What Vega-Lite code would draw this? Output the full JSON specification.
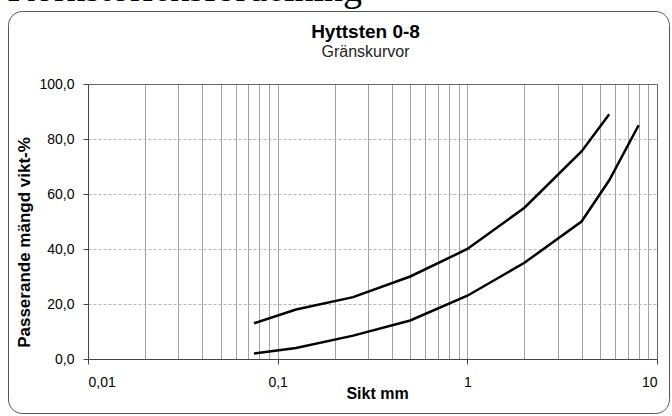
{
  "$schema": "https://vega.github.io/schema/vega-lite/v6.json",
  "autosize": {"type": "none"},
  "width": 661,
  "height": 402,
  "padding": {"left": 8, "top": 11, "right": 3, "bottom": 3},
  "background": "#ffffff",
  "config": {
    "view": {"stroke": "#555555", "strokeWidth": 1, "cornerRadius": 14},
    "font": "Liberation Sans",
    "axis": {"labelFont": "Liberation Sans", "titleFont": "Liberation Sans", "labelColor": "#000000", "titleColor": "#000000"}
  },
  "title": {
    "text": "Hyttsten 0-8",
    "subtitle": "Gränskurvor",
    "frame": "group",
    "anchor": "middle",
    "orient": "top",
    "offset": -90,
    "dx": 27,
    "font": "Liberation Sans",
    "fontSize": 19,
    "fontWeight": "bold",
    "color": "#000000",
    "subtitleFont": "Liberation Sans",
    "subtitleFontSize": 16,
    "subtitleColor": "#222222",
    "subtitlePadding": 2
  },
  "data": {
    "values": [
      {"serie": "övre", "sikt": 0.075, "passerande": 13},
      {"serie": "övre", "sikt": 0.125, "passerande": 18},
      {"serie": "övre", "sikt": 0.25, "passerande": 22.5},
      {"serie": "övre", "sikt": 0.5, "passerande": 30},
      {"serie": "övre", "sikt": 1, "passerande": 40},
      {"serie": "övre", "sikt": 2, "passerande": 55},
      {"serie": "övre", "sikt": 4, "passerande": 75.5},
      {"serie": "övre", "sikt": 5.6, "passerande": 89},
      {"serie": "undre", "sikt": 0.075, "passerande": 2},
      {"serie": "undre", "sikt": 0.125, "passerande": 4},
      {"serie": "undre", "sikt": 0.25, "passerande": 8.5},
      {"serie": "undre", "sikt": 0.5, "passerande": 14},
      {"serie": "undre", "sikt": 1, "passerande": 23},
      {"serie": "undre", "sikt": 2, "passerande": 35},
      {"serie": "undre", "sikt": 4, "passerande": 50},
      {"serie": "undre", "sikt": 5.6, "passerande": 65},
      {"serie": "undre", "sikt": 8, "passerande": 85}
    ]
  },
  "resolve": {"axis": {"x": "independent", "y": "independent"}},
  "layer": [
    {
      "mark": {"type": "line", "color": "#000000", "strokeWidth": 2.5, "opacity": 0},
      "encoding": {
        "x": {
          "field": "sikt", "type": "quantitative",
          "scale": {"type": "log", "domain": [0.01, 10], "range": [80, 649], "nice": false},
          "axis": {
            "orient": "top", "offset": -73,
            "values": [0.01,0.02,0.03,0.04,0.05,0.06,0.07,0.08,0.09,0.1,0.2,0.3,0.4,0.5,0.6,0.7,0.8,0.9,1,2,3,4,5,6,7,8,9,10],
            "grid": true, "gridColor": "#a3a3a3", "gridWidth": 1,
            "domain": true, "domainColor": "#666666", "domainWidth": 1,
            "ticks": false, "labels": false,
            "title": "Kornstorleksfördelning",
            "titleFont": "Liberation Serif", "titleFontSize": 38, "titleFontWeight": "normal",
            "titleX": -1, "titleY": -84, "titleAlign": "left", "titleBaseline": "alphabetic", "titleAngle": 0
          }
        },
        "y": {
          "field": "passerande", "type": "quantitative",
          "scale": {"domain": [0, 100], "range": [348, 73], "nice": false, "zero": true},
          "axis": {
            "orient": "right", "offset": -12,
            "grid": false, "domain": true, "domainColor": "#666666", "domainWidth": 1,
            "ticks": false, "labels": false, "title": null
          }
        },
        "detail": {"field": "serie"}
      }
    },
    {
      "mark": {"type": "line", "color": "#000000", "strokeWidth": 2.5},
      "encoding": {
        "x": {
          "field": "sikt", "type": "quantitative",
          "axis": {
            "orient": "bottom", "offset": -54,
            "values": [0.01, 0.1, 1, 10],
            "grid": false,
            "domain": true, "domainColor": "#444444", "domainWidth": 1,
            "ticks": true, "tickSize": 5, "tickColor": "#444444",
            "labelFontSize": 14, "labelPadding": 11,
            "labelExpr": "replace(format(datum.value, '~g'), '.', ',')",
            "title": "Sikt mm",
            "titleFontSize": 16, "titleFontWeight": "bold",
            "titleX": 369, "titleY": 39, "titleAlign": "center", "titleBaseline": "alphabetic"
          }
        },
        "y": {
          "field": "passerande", "type": "quantitative",
          "axis": {
            "orient": "left", "offset": -80,
            "values": [0, 20, 40, 60, 80, 100],
            "grid": true, "gridColor": "#b5b5b5", "gridDash": [3, 2], "gridWidth": 1,
            "domain": true, "domainColor": "#444444", "domainWidth": 1,
            "ticks": true, "tickSize": 5, "tickColor": "#444444",
            "labelFontSize": 14, "labelPadding": 9,
            "labelExpr": "replace(format(datum.value, '.1f'), '.', ',')",
            "title": "Passerande mängd vikt-%",
            "titleFontSize": 17, "titleFontWeight": "bold",
            "titleX": -59, "titleY": 231, "titleAngle": -90, "titleAlign": "center", "titleBaseline": "alphabetic"
          }
        },
        "detail": {"field": "serie"}
      }
    }
  ]
}
